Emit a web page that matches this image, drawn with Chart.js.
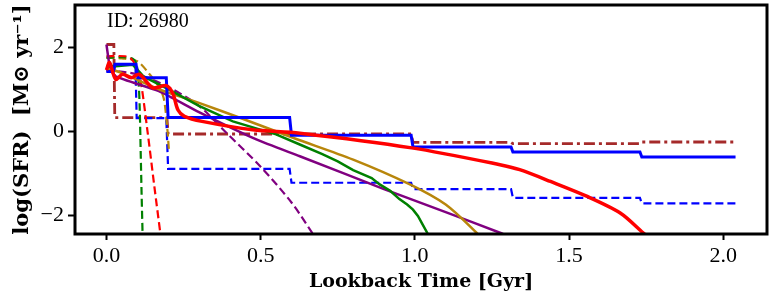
<!DOCTYPE html>
<html>
<head>
<meta charset="utf-8">
<script src="https://cdn.jsdelivr.net/npm/chart.js@4.4.1/dist/chart.umd.min.js"></script>
<style>
  html, body { margin: 0; padding: 0; background: #fff; }
  #wrap { width: 773px; height: 300px; }
</style>
</head>
<body>
<div id="wrap"><canvas id="sfrChart" width="773" height="300"></canvas></div>
<script>
// tick values
var xTicks = [0, 0.5, 1.0, 1.5, 2.0]
var yTicks = [-2, 0, 2]

// step-like SFHs
var blueSolidX = [0, 0.022, 0.028, 0.096, 0.102, 0.194, 0.2, 0.594, 0.6, 0.988, 0.994, 1.312, 1.318, 1.73, 1.736, 2.04]
var blueSolidY = [1.42, 1.42, 1.59, 1.59, 1.27, 1.27, 0.32, 0.32, -0.1, -0.1, -0.38, -0.38, -0.5, -0.5, -0.62, -0.62]
var blueDashX = [0, 0.022, 0.028, 0.094, 0.098, 0.194, 0.2, 0.594, 0.6, 0.988, 0.994, 1.312, 1.318, 1.73, 1.736, 2.04]
var blueDashY = [1.42, 1.42, 1.59, 1.59, 0.31, 0.31, -0.9, -0.9, -1.23, -1.23, -1.38, -1.38, -1.59, -1.59, -1.72, -1.72]
var brownX = [0, 0.024, 0.027, 0.196, 0.2, 0.988, 0.994, 1.312, 1.318, 1.73, 1.736, 2.04]
var brownY = [2.06, 2.06, 0.32, 0.32, -0.07, -0.07, -0.27, -0.27, -0.3, -0.3, -0.26, -0.26]

// parametric SFHs (dashed)
var goldDashX = [0, 0.05, 0.1, 0.14, 0.17, 0.185, 0.193, 0.198, 0.203]
var goldDashY = [1.75, 1.73, 1.66, 1.35, 1.05, 0.8, 0.4, 0, -0.5]
var greenDashX = [0, 0.05, 0.085, 0.097, 0.104, 0.108, 0.111, 0.114, 0.118]
var greenDashY = [1.74, 1.76, 1.72, 1.6, 1.2, 0.5, -0.5, -1.5, -2.7]
var redDashX = [0, 0.06, 0.08, 0.095, 0.11, 0.133, 0.155, 0.175, 0.18]
var redDashY = [1.78, 1.78, 1.72, 1.55, 1.23, 0, -1.3, -2.45, -2.75]
var purpleDashX = [0, 0.1, 0.2, 0.3, 0.383, 0.5, 0.6, 0.665, 0.69]
var purpleDashY = [1.45, 1.35, 1.05, 0.6, 0, -0.85, -1.7, -2.4, -2.7]

// smooth / noisy SFHs (solid)
var purpleX = [0, 0.012, 0.03, 0.17, 0.3, 0.486, 0.627, 0.9, 1.1, 1.276, 1.3]
var purpleY = [2.06, 1.5, 1.3, 0.95, 0.45, -0.2, -0.6, -1.38, -1.93, -2.42, -2.5]
var goldX = [0, 0.05, 0.1, 0.172, 0.3, 0.45, 0.605, 0.8, 0.984, 1.1, 1.2, 1.22]
var goldY = [1.5, 1.38, 1.22, 0.99, 0.67, 0.27, -0.16, -0.68, -1.27, -1.75, -2.42, -2.6]
var greenX = [0, 0.03, 0.085, 0.12, 0.2, 0.3, 0.41, 0.55, 0.627, 0.7, 0.75, 0.8, 0.86, 0.886, 0.92, 0.95, 0.975, 0.994, 1.01, 1.025, 1.04, 1.05]
var greenY = [1.55, 1.54, 1.58, 1.3, 1.0, 0.6, 0.23, -0.08, -0.32, -0.55, -0.72, -0.93, -1.12, -1.27, -1.42, -1.62, -1.75, -1.87, -2.02, -2.22, -2.42, -2.6]
var redX = [0, 0.01, 0.03, 0.052, 0.08, 0.107, 0.15, 0.194, 0.215, 0.232, 0.253, 0.31, 0.474, 0.627, 0.99, 1.276, 1.34, 1.44, 1.557, 1.666, 1.74, 1.76]
var redY = [1.45, 1.63, 1.23, 1.35, 1.27, 1.35, 1.03, 1.08, 0.9, 0.5, 0.35, 0.23, 0.03, -0.05, -0.4, -0.8, -0.92, -1.2, -1.55, -1.95, -2.42, -2.55]

function pts(xs, ys) {
    return xs.map(function (x, i) { return { x: x, y: ys[i] } })
}

function series(xs, ys, color, width, dash, tension) {
    return {
        data: pts(xs, ys),
        borderColor: color,
        borderWidth: width,
        borderDash: dash || [],
        pointRadius: 0,
        tension: tension || 0,
        fill: false
    }
}

var serif = "'Liberation Serif', 'DejaVu Serif', serif"
var boldSerif = "'DejaVu Serif', 'Liberation Serif', serif"

// frame + ID label
var framePlugin = {
    id: 'frame',
    afterDraw: function (chart) {
        var a = chart.chartArea
        var c = chart.ctx
        c.save()
        c.strokeStyle = '#000'
        c.lineWidth = 3
        c.strokeRect(a.left, a.top, a.right - a.left, a.bottom - a.top)
        c.fillStyle = '#000'
        c.font = '20px ' + serif
        c.textBaseline = 'alphabetic'
        c.fillText('ID: 26980', a.left + 32, a.top + 22)
        c.restore()
    }
}

const ctx = document.getElementById('sfrChart')
new Chart(ctx, {
    type: 'line',
    data: {
        datasets: [
            series(redX, redY, '#ff0000', 3.5, null, 0.3),
            series(blueSolidX, blueSolidY, '#0000ff', 3),
            series(greenX, greenY, '#008000', 2.5),
            series(goldX, goldY, '#b8860b', 2.5, null, 0.3),
            series(purpleX, purpleY, '#800080', 2.5, null, 0.2),
            series(redDashX, redDashY, '#ff0000', 2.2, [8, 4], 0.3),
            series(greenDashX, greenDashY, '#008000', 2.2, [8, 4], 0.3),
            series(goldDashX, goldDashY, '#b8860b', 2.2, [8, 4], 0.3),
            series(purpleDashX, purpleDashY, '#800080', 2.2, [8, 4], 0.3),
            series(blueDashX, blueDashY, '#0000ff', 2.2, [8, 4]),
            series(brownX, brownY, '#a52a2a', 2.8, [11, 4, 3, 4])
        ]
    },
    plugins: [framePlugin],
    options: {
        responsive: false,
        animation: false,
        layout: { padding: { top: 5, right: 6, left: 0, bottom: 0 } },
        plugins: { legend: { display: false }, tooltip: { enabled: false } },
        scales: {
            x: {
                type: 'linear',
                min: -0.102,
                max: 2.142,
                afterBuildTicks: function (s) { s.ticks = xTicks.map(function (v) { return { value: v } }) },
                afterFit: function (s) { s.height = 66; s.paddingLeft = 0; s.paddingRight = 0 },
                border: { display: false },
                grid: { drawOnChartArea: false, drawTicks: true, tickLength: 6, tickWidth: 2, tickColor: '#000' },
                ticks: {
                    color: '#000', padding: 3,
                    font: { family: serif, size: 22 },
                    callback: function (v) { return v.toFixed(1) }
                },
                title: {
                    display: true, text: 'Lookback Time [Gyr]', color: '#000',
                    font: { family: boldSerif, size: 19, weight: 'bold' },
                    padding: { top: 0, bottom: 7 }
                }
            },
            y: {
                min: -2.45,
                max: 3,
                afterBuildTicks: function (s) { s.ticks = yTicks.map(function (v) { return { value: v } }) },
                afterFit: function (s) { s.width = 75; s.paddingTop = 0; s.paddingBottom = 0 },
                border: { display: false },
                grid: { drawOnChartArea: false, drawTicks: true, tickLength: 7, tickWidth: 2, tickColor: '#000' },
                ticks: {
                    color: '#000', padding: 4,
                    font: { family: serif, size: 22 },
                    callback: function (v) { return String(v).replace('-', '\u2212') }
                },
                title: {
                    display: true, text: 'log(SFR)  [M\u2299 yr\u207B\u00B9]', color: '#000',
                    font: { family: boldSerif, size: 21, weight: 'bold' },
                    padding: { top: 10, bottom: 0 }
                }
            }
        }
    }
})
</script>
</body>
</html>
